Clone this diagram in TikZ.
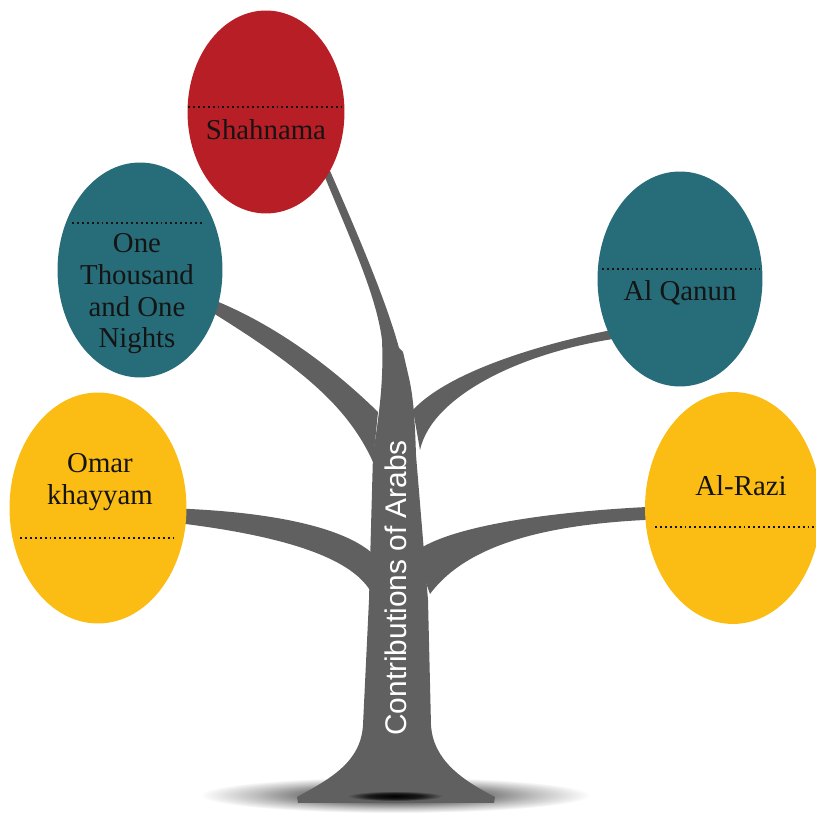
\documentclass[tikz,border=0pt]{standalone}
\usepackage{fontspec}
\setmainfont{Liberation Serif}
\newfontfamily\trunkfont{Liberation Sans}
\usetikzlibrary{shapes.geometric,calc,backgrounds}
\definecolor{leafred}{RGB}{184,30,37}
\definecolor{leafteal}{RGB}{39,109,121}
\definecolor{leafgold}{RGB}{251,188,19}
\definecolor{bark}{RGB}{96,96,96}
\definecolor{ink}{RGB}{20,20,20}
\pgfdeclareradialshading{groundfade}{\pgfpoint{0bp}{0bp}}{color(0bp)=(black!75); color(10bp)=(black!58); color(18bp)=(black!25); color(25bp)=(white); color(50bp)=(white)}
\pgfdeclareradialshading{pitfade}{\pgfpoint{0bp}{0bp}}{color(0bp)=(black); color(14bp)=(black!90); color(25bp)=(black!62); color(50bp)=(black!62)}
\begin{document}
\begin{tikzpicture}[x=0.02cm, y=-0.02cm, leafStyle/.style={ellipse, inner sep=0pt}, textStyle/.style={align=center, text=ink, font=\fontsize{16.4}{18}\selectfont}, dotStyle/.style={draw=ink, line width=1.1pt, dash pattern=on 1.1pt off 1.7pt}, barkStyle/.style={fill=bark}]
    \useasboundingbox (0,0) rectangle (816,813);

    \node[leafStyle, fill=leafred,  minimum width=3.14cm, minimum height=4.06cm] (leaf_shah)   at (266,112) {};
    \node[leafStyle, fill=leafteal, minimum width=3.3cm,  minimum height=4.3cm]  (leaf_nights) at (140,270) {};
    \node[leafStyle, fill=leafteal, minimum width=3.3cm,  minimum height=4.3cm]  (leaf_qanun)  at (680,279) {};
    \node[leafStyle, fill=leafgold, minimum width=3.54cm, minimum height=4.62cm] (leaf_omar)   at ( 98,508) {};
    \node[leafStyle, fill=leafgold, minimum width=3.52cm, minimum height=4.64cm] (leaf_razi)   at (733,508) {};

    \draw[dotStyle] ($(leaf_shah.center)+(-78,-5)$)   -- ($(leaf_shah.center)+(78,-5)$);
    \draw[dotStyle] ($(leaf_nights.center)+(-68,-47)$) -- ($(leaf_nights.center)+(62,-47)$);
    \draw[dotStyle] ($(leaf_qanun.center)+(-78,-10)$)  -- ($(leaf_qanun.center)+(80,-10)$);
    \draw[dotStyle] ($(leaf_omar.center)+(-78,30)$)    -- ($(leaf_omar.center)+(79,30)$);
    \draw[dotStyle] ($(leaf_razi.center)+(-78,19)$)    -- ($(leaf_razi.center)+(83,19)$);

    \node[textStyle] (text_shah)   at (266,130) {Shahnama};
    \node[textStyle] (text_nights) at (137,294) {One\\Thousand\\and One\\Nights};
    \node[textStyle] (text_qanun)  at (680,293) {Al Qanun};
    \node[textStyle] (text_omar)   at (100,482) {Omar\\khayyam};
    \node[textStyle] (text_razi)   at (741,486) {Al-Razi};

    \begin{scope}[on background layer]
        \shade[shading=groundfade] (395,795) ellipse (195 and 18);
        \fill[barkStyle] (297,797) .. controls (330,779) and (361,762) .. (363,725)
            -- (369,600) -- (373,455)
            .. controls (378,420) and (384,385) .. (382,340)
            .. controls (376,292) and (346,230) .. ($(leaf_shah.center)+(54,53)$)
            -- ($(leaf_shah.center)+(61,52)$)
            .. controls (356,230) and (386,300) .. (399,348)
            -- (403,352) -- (409,378)
            .. controls (414,400) and (415,425) .. (416,455)
            -- (428,600) -- (431,725)
            .. controls (433,760) and (462,780) .. (495,797)
            -- (494,803) -- (298,803) -- cycle;
        \fill[barkStyle] ($(leaf_nights.center)+(52,22)$) .. controls (270,318) and (335,370) .. (378,412)
            -- (373,462) .. controls (345,400) and (290,360) .. ($(leaf_nights.center)+(52,30)$) -- cycle;
        \fill[barkStyle] (413,410) .. controls (445,375) and (530,345) .. ($(leaf_qanun.center)+(-53,48)$)
            -- ($(leaf_qanun.center)+(-53,58)$) .. controls (525,350) and (432,395) .. (420,450) -- cycle;
        \fill[barkStyle] ($(leaf_omar.center)+(62,0)$) .. controls (260,510) and (340,525) .. (372,553)
            -- (372,594) .. controls (355,560) and (290,535) .. ($(leaf_omar.center)+(62,13)$) -- cycle;
        \fill[barkStyle] (415,552) .. controls (450,525) and (560,510) .. ($(leaf_razi.center)+(-63,-2)$)
            -- ($(leaf_razi.center)+(-63,11)$) .. controls (560,522) and (470,540) .. (430,594) -- cycle;
        \shade[shading=pitfade] (395,796) ellipse (48 and 5);
    \end{scope}

    \node[rotate=90, text=white, font=\trunkfont\fontsize{17}{20}\selectfont] (trunk_label) at (396,588) {Contributions of Arabs};
\end{tikzpicture}
\end{document}
